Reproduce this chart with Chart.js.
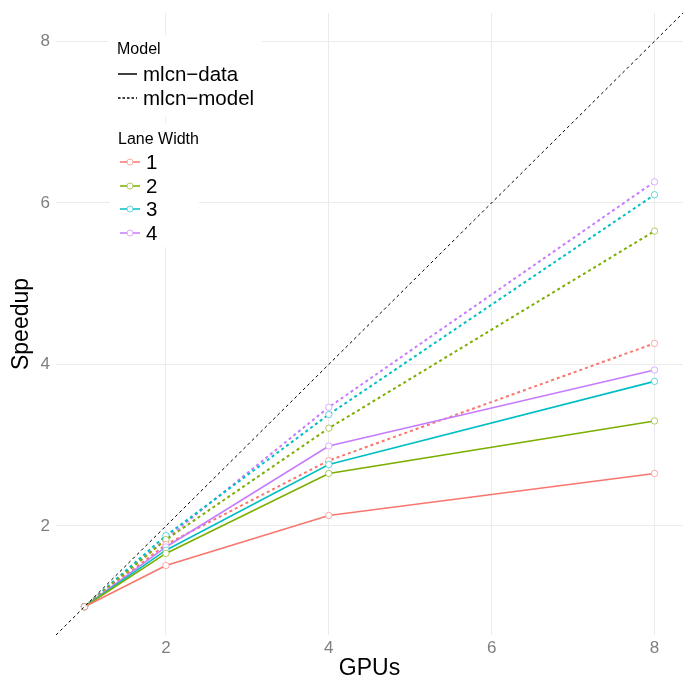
<!DOCTYPE html>
<html>
<head>
<meta charset="utf-8">
<script src="https://cdn.jsdelivr.net/npm/chart.js@4"></script>
<style>
  body { margin: 0; background: #fff; font-family: "Liberation Sans", Arial, sans-serif; }
  #wrap { position: relative; width: 689px; height: 689px; }
  .box { position: absolute; background: #fff; }
  .lg { position: absolute; color: #000; white-space: nowrap; }
  .ttl { font-size: 16px; line-height: 18px; }
  .itm { font-size: 20.5px; line-height: 20px; display: flex; align-items: center; }
  .itm svg { margin-right: 5px; }
</style>
</head>
<body>
<div id="wrap">
  <canvas id="chart" width="689" height="689"></canvas>
  <div class="box" style="left:108px;top:35px;width:154px;height:82px;"></div>
  <div class="box" style="left:110px;top:123px;width:89px;height:124px;"></div>
  <div id="legend"></div>
</div>
<script>
const gpus = [1, 2, 4, 8];
const laneWidths = ['1', '2', '3', '4'];
const dataSpeedup = [
  [1, 1.51, 2.13, 2.65],
  [1, 1.66, 2.65, 3.30],
  [1, 1.70, 2.76, 3.79],
  [1, 1.74, 2.99, 3.93]
];
const modelSpeedup = [
  [1, 1.77, 2.81, 4.26],
  [1, 1.83, 3.21, 5.65],
  [1, 1.88, 3.38, 6.10],
  [1, 1.84, 3.47, 6.26]
];
const modelNames = ['mlcn\u2212data', 'mlcn\u2212model'];
const xTicks = [2, 4, 6, 8];
const yTicks = [2, 4, 6, 8];
const axisMin = 0.65, axisMax = 8.35;

const colors = ['#F8766D', '#7CAE00', '#00BFC4', '#C77CFF'];
const pointColors = ['rgba(248,118,109,0.6)', 'rgba(124,174,0,0.6)', 'rgba(0,191,196,0.6)', 'rgba(199,124,255,0.6)'];

function series(vals, i, dashed) {
  return {
    label: laneWidths[i] + (dashed ? ' model' : ' data'),
    data: gpus.map((g, k) => ({ x: g, y: vals[k] })),
    borderColor: colors[i],
    borderWidth: dashed ? 2 : 1.6,
    borderDash: dashed ? [3, 3] : [],
    pointRadius: 3.2,
    pointBorderWidth: 1,
    pointBackgroundColor: '#fff',
    pointBorderColor: pointColors[i],
    tension: 0
  };
}

const datasets = [{
  label: 'ideal',
  data: [{ x: axisMin, y: axisMin }, { x: axisMax, y: axisMax }],
  borderColor: '#000',
  borderWidth: 1,
  borderDash: [3, 3],
  pointRadius: 0
}];
for (let i = 0; i < 4; i++) datasets.push(series(dataSpeedup[i], i, false));
for (let i = 0; i < 4; i++) datasets.push(series(modelSpeedup[i], i, true));

const grid = { color: '#EBEBEB', lineWidth: 1, drawTicks: false };

new Chart(document.getElementById('chart').getContext('2d'), {
  type: 'line',
  data: { datasets: datasets },
  options: {
    responsive: false,
    animation: false,
    layout: { padding: { top: 13, right: 6, left: 0, bottom: 0 } },
    plugins: { legend: { display: false }, tooltip: { enabled: false } },
    scales: {
      x: {
        type: 'linear', min: axisMin, max: axisMax,
        grid: grid, border: { display: false },
        afterBuildTicks: s => { s.ticks = xTicks.map(v => ({ value: v })); },
        afterFit: s => { s.height = 54; s.paddingLeft = 0; s.paddingRight = 0; },
        ticks: { color: '#7F7F7F', font: { family: 'Liberation Sans', size: 17 }, padding: 3, maxRotation: 0 },
        title: { display: true, text: 'GPUs', color: '#000', font: { family: 'Liberation Sans', size: 23 }, padding: { top: 0, bottom: 7 } }
      },
      y: {
        type: 'linear', min: axisMin, max: axisMax,
        grid: grid, border: { display: false },
        afterBuildTicks: s => { s.ticks = yTicks.map(v => ({ value: v })); },
        afterFit: s => { s.width = 56; s.paddingTop = 0; s.paddingBottom = 0; },
        ticks: { color: '#7F7F7F', font: { family: 'Liberation Sans', size: 17 }, padding: 6 },
        title: { display: true, text: 'Speedup', color: '#000', font: { family: 'Liberation Sans', size: 23 }, padding: { top: 8, bottom: 0 } }
      }
    }
  }
});

// legend (two guides like the original)
const lg = document.getElementById('legend');
function add(html, left, top, cls) {
  const d = document.createElement('div');
  d.className = 'lg ' + cls;
  d.style.left = left + 'px';
  d.style.top = top + 'px';
  d.innerHTML = html;
  lg.appendChild(d);
}
add('Model', 117, 40, 'ttl');
modelNames.forEach((name, k) => {
  const dash = k === 1 ? ' stroke-dasharray="2.5,2"' : '';
  add('<svg width="21" height="10"><line x1="1" y1="5" x2="20" y2="5" stroke="#000" stroke-width="1.5"' + dash + '/></svg>' + name, 117, 64 + k * 24, 'itm');
});
add('Lane Width', 118, 130, 'ttl');
laneWidths.forEach((w, i) => {
  add('<svg width="22" height="10"><line x1="1" y1="5" x2="21" y2="5" stroke="' + colors[i] + '" stroke-width="1.5"/>' +
      '<circle cx="11" cy="5" r="3" fill="#fff" stroke="' + pointColors[i] + '" stroke-width="1"/></svg>' + w, 119, 152 + i * 23.7, 'itm');
});
</script>
</body>
</html>
